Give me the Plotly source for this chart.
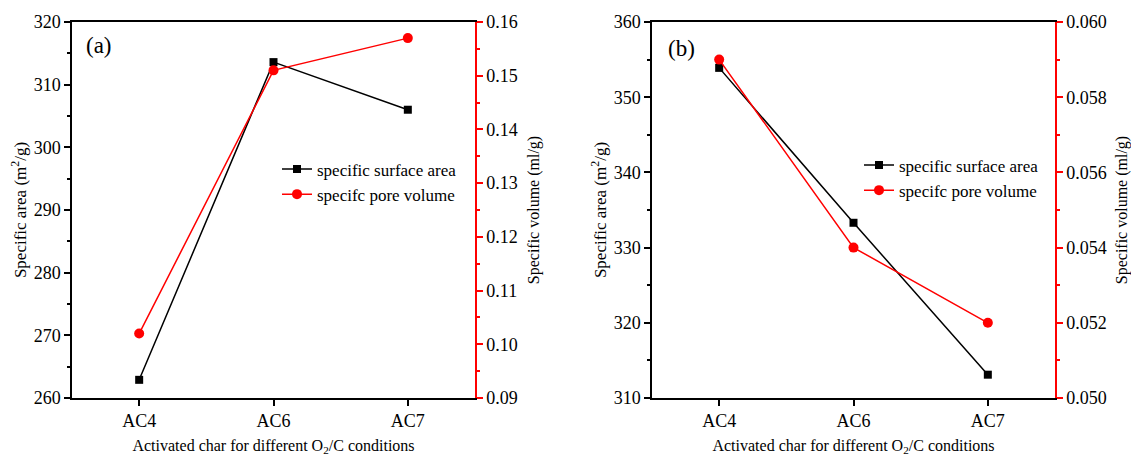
import plotly.graph_objects as go

categories = ["AC4", "AC6", "AC7"]
area_a = [262.9, 313.6, 306.0]
volume_a = [0.102, 0.151, 0.157]
area_b = [353.9, 333.3, 313.1]
volume_b = [0.059, 0.054, 0.052]

FONT = "'Times New Roman', 'Liberation Serif', 'DejaVu Serif', serif"
W, H = 1131, 456

def px_x(p):
    return p / W

def px_y(p):
    return 1 - p / H

dom_a = [px_x(72), px_x(475)]
dom_b = [px_x(652), px_x(1055)]
dom_y = [px_y(398), px_y(22)]

fig = go.Figure()

def add_pair(xax, yl, yr, area, vol, legend):
    fig.add_trace(go.Scatter(
        x=categories, y=area, xaxis=xax, yaxis=yl, mode="lines+markers",
        name="specific surface area", legend=legend,
        line=dict(color="black", width=1.5),
        marker=dict(symbol="square", size=8, color="black"),
    ))
    fig.add_trace(go.Scatter(
        x=categories, y=vol, xaxis=xax, yaxis=yr, mode="lines+markers",
        name="specifc pore volume", legend=legend,
        line=dict(color="red", width=1.5),
        marker=dict(symbol="circle", size=10, color="red"),
    ))

add_pair("x", "y", "y2", area_a, volume_a, "legend")
add_pair("x2", "y3", "y4", area_b, volume_b, "legend2")

tickfont = dict(family=FONT, size=18, color="black")
titlefont = dict(family=FONT, size=16, color="black")
titlefont_left = dict(family=FONT, size=17, color="black")

def xaxis_cfg(domain, anchor):
    return dict(
        domain=domain, anchor=anchor, type="category", range=[-0.5, 2.5],
        showline=True, linecolor="black", linewidth=1.5, mirror=True,
        ticks="outside", ticklen=6, tickwidth=1.5, tickcolor="black",
        tickfont=tickfont, showgrid=False, zeroline=False, automargin=False,
        title=dict(text="Activated char for different O<sub>2</sub>/C conditions",
                   font=titlefont, standoff=14),
    )

def yleft_cfg(anchor, rng, dtick, minor_dtick, title):
    return dict(
        domain=dom_y, anchor=anchor, range=rng, dtick=dtick, tick0=rng[0],
        showline=True, linecolor="black", linewidth=1.5,
        ticks="outside", ticklen=6, tickwidth=1.5, tickcolor="black",
        minor=dict(ticks="outside", ticklen=3, tickwidth=1.5, tickcolor="black", dtick=minor_dtick, tick0=rng[0]),
        tickfont=tickfont, showgrid=False, zeroline=False, automargin=False,
        title=dict(text=title, font=titlefont_left, standoff=3),
    )

def yright_cfg(anchor, overlay, rng, dtick, minor_dtick, fmt):
    return dict(
        domain=dom_y, anchor=anchor, overlaying=overlay, side="right",
        range=rng, dtick=dtick, tick0=rng[0], tickformat=fmt,
        showline=True, linecolor="red", linewidth=1.5,
        ticks="outside", ticklen=6, tickwidth=1.5, tickcolor="red",
        minor=dict(ticks="outside", ticklen=3, tickwidth=1.5, tickcolor="red", dtick=minor_dtick, tick0=rng[0]),
        tickfont=tickfont, showgrid=False, zeroline=False, automargin=False,
        title=dict(text="Specific volume (ml/g)", font=titlefont, standoff=11),
    )

legend_common = dict(
    font=dict(family=FONT, size=17, color="black"),
    bgcolor="rgba(0,0,0,0)", borderwidth=0, tracegroupgap=0,
    xanchor="left", yanchor="middle",
)

fig.update_layout(
    width=W, height=H,
    margin=dict(l=0, r=0, t=0, b=0, autoexpand=False),
    paper_bgcolor="white", plot_bgcolor="white",
    font=dict(family=FONT, color="black"),
    xaxis=xaxis_cfg(dom_a, "y"),
    yaxis=yleft_cfg("x", [260, 320], 10, 5, "Specific area (m<sup>2</sup>/g)"),
    yaxis2=yright_cfg("x", "y", [0.09, 0.16], 0.01, 0.005, ".2f"),
    xaxis2=xaxis_cfg(dom_b, "y3"),
    yaxis3=yleft_cfg("x2", [310, 360], 10, 5, "Specific area (m<sup>2</sup>/g)"),
    yaxis4=yright_cfg("x2", "y3", [0.050, 0.060], 0.002, 0.001, ".3f"),
    legend=dict(x=px_x(277), y=px_y(182), **legend_common),
    legend2=dict(x=px_x(859), y=px_y(178), **legend_common),
    annotations=[
        dict(text="(a)", x=px_x(84), y=px_y(46), xref="paper", yref="paper",
             xanchor="left", yanchor="middle", showarrow=False,
             font=dict(family=FONT, size=23, color="black")),
        dict(text="(b)", x=px_x(666), y=px_y(48), xref="paper", yref="paper",
             xanchor="left", yanchor="middle", showarrow=False,
             font=dict(family=FONT, size=23, color="black")),
    ],
)

fig.write_html("out.html")
